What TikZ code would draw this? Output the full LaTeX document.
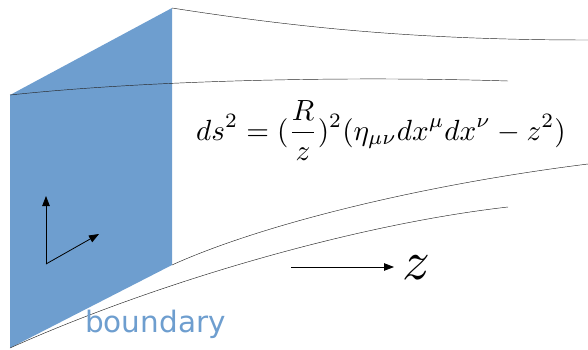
\documentclass[tikz,border=0pt]{standalone}
\usepackage{fontspec}
\newfontfamily\labelfont{DejaVu Sans}
\usetikzlibrary{arrows.meta}
\definecolor{bnd}{HTML}{6E9ECF}
\tikzset{
  curve/.style={line width=0.45pt, black!85},
  axis/.style={line width=0.8pt, -{Triangle[length=10pt,width=7.5pt]}},
}
\begin{document}
\begin{tikzpicture}[x=1pt,y=-1pt]
\useasboundingbox (0,0) rectangle (588,350);
% boundary plane
\fill[bnd] (10,95) coordinate (tl) -- (172,8) coordinate (tr) -- (172,265) coordinate (br) -- (10,348) coordinate (bl) -- cycle;
% curves
\coordinate (e1) at (588,40);
\coordinate (e2) at (508,81);
\coordinate (e3) at (588,164);
\coordinate (e4) at (508,207);
\draw[curve] (tr) .. controls (300,28) and (420,40) .. (e1);
\draw[curve] (tl) .. controls (150,80) and (350,76) .. (e2);
\draw[curve] (br) .. controls (260,225) and (420,185) .. (e3);
\draw[curve] (bl) .. controls (150,285) and (350,225) .. (e4);
% axes on boundary
\coordinate (o) at (46,264);
\coordinate (ay) at (46,196);
\coordinate (ax) at (99,234);
\draw[axis] (o) -- (ay);
\draw[axis] (o) -- (ax);
% metric
\node[anchor=base, inner sep=0pt] (metric) at (381,140) {\scalebox{2.92}{$\displaystyle ds^2=(\frac{R}{z})^2(\eta_{\mu\nu}dx^\mu dx^\nu - z^2)$}};
% z direction
\coordinate (zs) at (291,267);
\node[anchor=base west, inner sep=0pt] (zl) at (402,279) {\scalebox{5.5}{$z$}};
\draw[axis] (zs) -- (394,267);
% boundary label
\node[anchor=base west, inner sep=0pt, text=bnd] (blab) at (85,332) {\labelfont\fontsize{29.5}{32}\selectfont boundary};
\end{tikzpicture}
\end{document}
